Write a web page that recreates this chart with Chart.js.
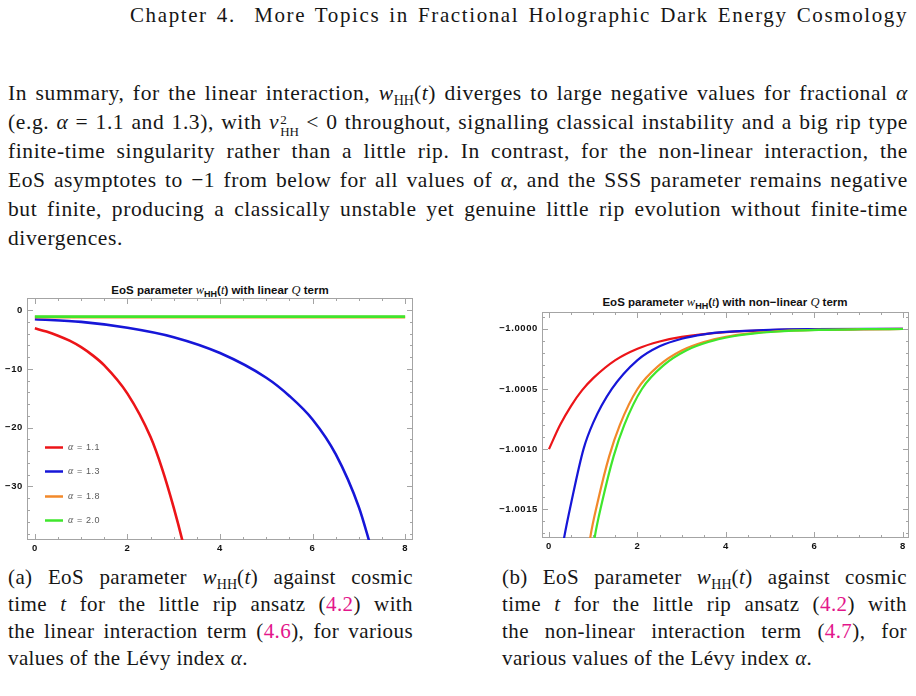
<!DOCTYPE html>
<html>
<head>
<meta charset="utf-8">
<script src="https://cdn.jsdelivr.net/npm/chart.js@4.4.1/dist/chart.umd.min.js"></script>
<style>
  html, body { margin: 0; padding: 0; background: #fff; }
  body { width: 916px; height: 696px; position: relative; overflow: hidden;
         font-family: 'Liberation Serif', 'DejaVu Serif', serif; color: #161616; font-size: 21.5px; letter-spacing: 0.6px; }
  .ln { position: absolute; left: 8px; width: 900px; line-height: 29px; text-align: justify; text-align-last: justify; }
  .hdr { position: absolute; left: 130px; width: 778px; top: 2px; line-height: 26px; font-size: 21px; text-align: justify; text-align-last: justify; letter-spacing: 1.6px; }
  .cap { position: absolute; width: 405px; line-height: 27px; font-size: 21px; letter-spacing: 0.4px; text-align: justify; text-align-last: justify; }
  .ln.last, .cap.last { text-align-last: left; }
  .sb { font-size: 14px; position: relative; top: 5px; line-height: 0; letter-spacing: 0; }
  .ss { display: inline-block; vertical-align: -7px; line-height: 12px; font-size: 13px; margin-left: 1px; letter-spacing: 0; }
  .ss span { display: block; }
  .ref { color: #e3168b; }
  .ct { position: absolute; text-align: center; font: bold 11.5px 'Liberation Sans', Arial, sans-serif; color: #111; white-space: nowrap; letter-spacing: 0; }
  .ct i { font-family: 'Liberation Serif', serif; font-weight: normal; font-size: 12.5px; }
  .ct sub { font-size: 9px; }
  canvas { position: absolute; }
</style>
</head>
<body>

<div class="hdr">Chapter 4. &nbsp;More Topics in Fractional Holographic Dark Energy Cosmology</div>

<div class="ln" style="top:79px">In summary, for the linear interaction, <i>w</i><span class="sb">HH</span>(<i>t</i>) diverges to large negative values for fractional <i>α</i></div>
<div class="ln" style="top:108px">(e.g. <i>α</i> = 1.1 and 1.3), with <i>v</i><span class="ss"><span>2</span><span>HH</span></span> &lt; 0 throughout, signalling classical instability and a big rip type</div>
<div class="ln" style="top:137px">finite-time singularity rather than a little rip. In contrast, for the non-linear interaction, the</div>
<div class="ln" style="top:166px">EoS asymptotes to −1 from below for all values of <i>α</i>, and the SSS parameter remains negative</div>
<div class="ln" style="top:195px">but finite, producing a classically unstable yet genuine little rip evolution without finite-time</div>
<div class="ln last" style="top:224px">divergences.</div>

<div class="ct" style="left:20px; width:400px; top:283px">EoS parameter <i>w</i><sub>HH</sub>(<i>t</i>) with linear <i>Q</i> term</div>
<div class="ct" style="left:525px; width:400px; top:295px">EoS parameter <i>w</i><sub>HH</sub>(<i>t</i>) with non−linear <i>Q</i> term</div>

<canvas id="linChart" width="420" height="260" style="left:0px; top:298px"></canvas>
<canvas id="nonChart" width="421" height="244" style="left:495px; top:312px"></canvas>

<div class="cap" style="left:8px; top:564px">(a) EoS parameter <i>w</i><span class="sb">HH</span>(<i>t</i>) against cosmic</div>
<div class="cap" style="left:8px; top:591px">time <i>t</i> for the little rip ansatz (<span class="ref">4.2</span>) with</div>
<div class="cap" style="left:8px; top:618px">the linear interaction term (<span class="ref">4.6</span>), for various</div>
<div class="cap last" style="left:8px; top:645px">values of the Lévy index <i>α</i>.</div>

<div class="cap" style="left:502px; top:564px">(b) EoS parameter <i>w</i><span class="sb">HH</span>(<i>t</i>) against cosmic</div>
<div class="cap" style="left:502px; top:591px">time <i>t</i> for the little rip ansatz (<span class="ref">4.2</span>) with</div>
<div class="cap" style="left:502px; top:618px">the non-linear interaction term (<span class="ref">4.7</span>), for</div>
<div class="cap last" style="left:502px; top:645px">various values of the Lévy index <i>α</i>.</div>

<script>
// Levy index labels and colours
var alphaLabels = ['α = 1.1', 'α = 1.3', 'α = 1.8', 'α = 2.0'];
var colors = ['#ec1418', '#1616d8', '#f2892a', '#3fe62c'];

// (a) linear Q term
var tLin11 = [0, 0.25, 0.5, 0.75, 1, 1.25, 1.5, 2, 2.5, 2.75, 3, 3.2, 3.3];
var wLin11 = [-3.1, -3.65, -4.35, -5.2, -6.3, -7.7, -9.4, -14.2, -21.6, -27.0, -33.6, -39.6, -43.0];
var tLin13 = [0, 1, 2, 3, 4, 5, 5.5, 6, 6.5, 7, 7.25, 7.4];
var wLin13 = [-1.55, -2.0, -3.0, -4.6, -7.3, -11.5, -14.6, -18.6, -24.5, -33.5, -40.0, -44.0];
var tLin18 = [0, 2, 4, 6, 8];
var wLin18 = [-1.2, -1.2, -1.2, -1.2, -1.2];
var tLin20 = [0, 2, 4, 6, 8];
var wLin20 = [-1.1, -1.1, -1.1, -1.1, -1.1];

// (b) non-linear Q term
var tNon11 = [0, 0.25, 0.5, 0.75, 1, 1.5, 2, 2.5, 3, 4, 5, 6, 8];
var wNon11 = [-1.00100, -1.00080, -1.00064, -1.00051, -1.00041, -1.00026, -1.000165, -1.000105, -1.000067, -1.000027, -1.000011, -1.0000045, -1.0000008];
var tNon13 = [0.2, 0.34, 0.5, 0.78, 1, 1.42, 2, 2.5, 3, 3.5, 4, 5, 6, 8];
var wNon13 = [-1.00205, -1.00174, -1.00145, -1.00100, -1.00078, -1.00050, -1.00026, -1.000145, -1.000082, -1.000046, -1.000026, -1.0000082, -1.0000026, -1.0000003];
var tNon18 = [0.85, 0.93, 1.1, 1.36, 1.6, 2, 2.5, 3, 3.5, 4, 4.5, 5, 6, 7, 8];
var wNon18 = [-1.00196, -1.00174, -1.00144, -1.00106, -1.00080, -1.00050, -1.00030, -1.00018, -1.00011, -1.000066, -1.00004, -1.000024, -1.0000088, -1.0000032, -1.0000012];
var tNon20 = [0.95, 1.03, 1.2, 1.46, 1.7, 2.1, 2.6, 3.1, 3.6, 4.1, 4.6, 5.1, 6.1, 7.1, 8];
var wNon20 = [-1.00196, -1.00174, -1.00144, -1.00106, -1.00080, -1.00050, -1.00030, -1.00018, -1.00011, -1.000066, -1.00004, -1.000024, -1.0000088, -1.0000032, -1.0000013];

// tick labels
var xTicks = [0, 2, 4, 6, 8];
var xTickLabels = ['0', '2', '4', '6', '8'];
var yTicksLin = [0, -10, -20, -30];
var yTickLabelsLin = ['0', '−10', '−20', '−30'];
var yTicksNon = [-1.0, -1.0005, -1.001, -1.0015];
var yTickLabelsNon = ['−1.0000', '−1.0005', '−1.0010', '−1.0015'];

function pts(ts, ws) {
    return ts.map(function (t, i) { return { x: t, y: ws[i] }; });
}

function makeSets(series, width) {
    return series.map(function (s, i) {
        return {
            label: alphaLabels[i],
            data: pts(s[0], s[1]),
            borderColor: colors[i],
            backgroundColor: colors[i],
            borderWidth: width,
            pointRadius: 0,
            fill: false,
            cubicInterpolationMode: 'monotone',
            clip: 0,
            order: 4 - i
        };
    });
}

// Mathematica style frame with inward ticks on all four sides
var frameTicks = {
    id: 'frameTicks',
    beforeDatasetsDraw: function (chart, args, o) {
        var ctx = chart.ctx, a = chart.chartArea, sx = chart.scales.x, sy = chart.scales.y;
        ctx.save();
        ctx.strokeStyle = '#a4a4a4';
        ctx.lineWidth = 1;
        ctx.strokeRect(Math.round(a.left) + 0.5, Math.round(a.top) + 0.5, Math.round(a.width) - 1, Math.round(a.height) - 1);
        ctx.beginPath();
        function xt(v, len) {
            var px = Math.round(sx.getPixelForValue(v)) + 0.5;
            ctx.moveTo(px, a.bottom); ctx.lineTo(px, a.bottom - len);
            ctx.moveTo(px, a.top); ctx.lineTo(px, a.top + len);
        }
        function yt(v, len) {
            var py = Math.round(sy.getPixelForValue(v)) + 0.5;
            ctx.moveTo(a.left, py); ctx.lineTo(a.left + len, py);
            ctx.moveTo(a.right, py); ctx.lineTo(a.right - len, py);
        }
        var k;
        for (k = Math.ceil(sx.min / o.xMinor); k * o.xMinor <= sx.max; k++) xt(k * o.xMinor, 3);
        for (k = Math.ceil((sy.min - o.yBase) / o.yMinor); o.yBase + k * o.yMinor <= sy.max; k++) yt(o.yBase + k * o.yMinor, 3);
        sx.ticks.forEach(function (t) { xt(t.value, 6); });
        sy.ticks.forEach(function (t) { yt(t.value, 6); });
        ctx.stroke();
        ctx.restore();
    }
};

// legend drawn inside the plot, lower left
var insideLegend = {
    id: 'insideLegend',
    afterDatasetsDraw: function (chart, args, o) {
        if (!o.show) return;
        var ctx = chart.ctx, a = chart.chartArea;
        ctx.save();
        chart.data.datasets.forEach(function (ds, i) {
            var y = Math.round(a.top + o.top + i * o.gap) + 0.5;
            ctx.strokeStyle = ds.borderColor;
            ctx.lineWidth = 2.5;
            ctx.beginPath();
            ctx.moveTo(a.left + 18, y);
            ctx.lineTo(a.left + 36, y);
            ctx.stroke();
            ctx.fillStyle = '#5a5a5a';
            ctx.textBaseline = 'middle';
            ctx.font = 'italic 10px "Liberation Serif", serif';
            ctx.fillText(ds.label.charAt(0), a.left + 41, y);
            var w = ctx.measureText(ds.label.charAt(0)).width;
            ctx.font = '9px "Liberation Sans", Arial, sans-serif';
            ctx.fillText(ds.label.slice(1), a.left + 41 + w, y);
        });
        ctx.restore();
    }
};

function axisFont() {
    return { family: '"Liberation Sans", Arial, sans-serif', size: 9.5, weight: 'bold' };
}

function buildChart(id, sets, xr, yr, yTicks, yLabels, yWidth, frameOpts, legendOpts) {
    return new Chart(document.getElementById(id).getContext('2d'), {
        type: 'line',
        data: { datasets: sets },
        options: {
            responsive: false,
            animation: false,
            events: [],
            layout: { padding: { top: 0, right: 7, bottom: 0, left: 0 } },
            scales: {
                x: {
                    type: 'linear', min: xr[0], max: xr[1],
                    afterBuildTicks: function (s) { s.ticks = xTicks.map(function (v) { return { value: v }; }); },
                    afterFit: function (s) { s.height = 18; s.paddingLeft = 0; s.paddingRight = 0; },
                    ticks: { color: '#111', font: axisFont(), padding: 3, maxRotation: 0, autoSkip: false,
                             callback: function (v, i) { return xTickLabels[i]; } },
                    grid: { display: false, drawTicks: false },
                    border: { display: false }
                },
                y: {
                    type: 'linear', min: yr[0], max: yr[1],
                    afterBuildTicks: function (s) { s.ticks = yTicks.map(function (v) { return { value: v }; }); },
                    afterFit: function (s) { s.width = yWidth; s.paddingTop = 0; s.paddingBottom = 0; },
                    ticks: { color: '#111', font: axisFont(), padding: 4, autoSkip: false,
                             callback: function (v, i) { return yLabels[i]; } },
                    grid: { display: false, drawTicks: false },
                    border: { display: false }
                }
            },
            plugins: {
                legend: { display: false },
                tooltip: { enabled: false },
                frameTicks: frameOpts,
                insideLegend: legendOpts
            }
        },
        plugins: [frameTicks, insideLegend]
    });
}

buildChart('linChart',
    makeSets([[tLin11, wLin11], [tLin13, wLin13], [tLin18, wLin18], [tLin20, wLin20]], 2.6),
    [-0.17, 8.17], [-39.1, 2.06], yTicksLin, yTickLabelsLin, 27,
    { xMinor: 0.5, yMinor: 2, yBase: 0 },
    { show: true, top: 149, gap: 24.4 });

buildChart('nonChart',
    makeSets([[tNon11, wNon11], [tNon13, wNon13], [tNon18, wNon18], [tNon20, wNon20]], 2.2),
    [-0.158, 8.136], [-1.001739, -0.99986], yTicksNon, yTickLabelsNon, 47,
    { xMinor: 0.5, yMinor: 0.0001, yBase: -1 },
    { show: false });
</script>
</body>
</html>
